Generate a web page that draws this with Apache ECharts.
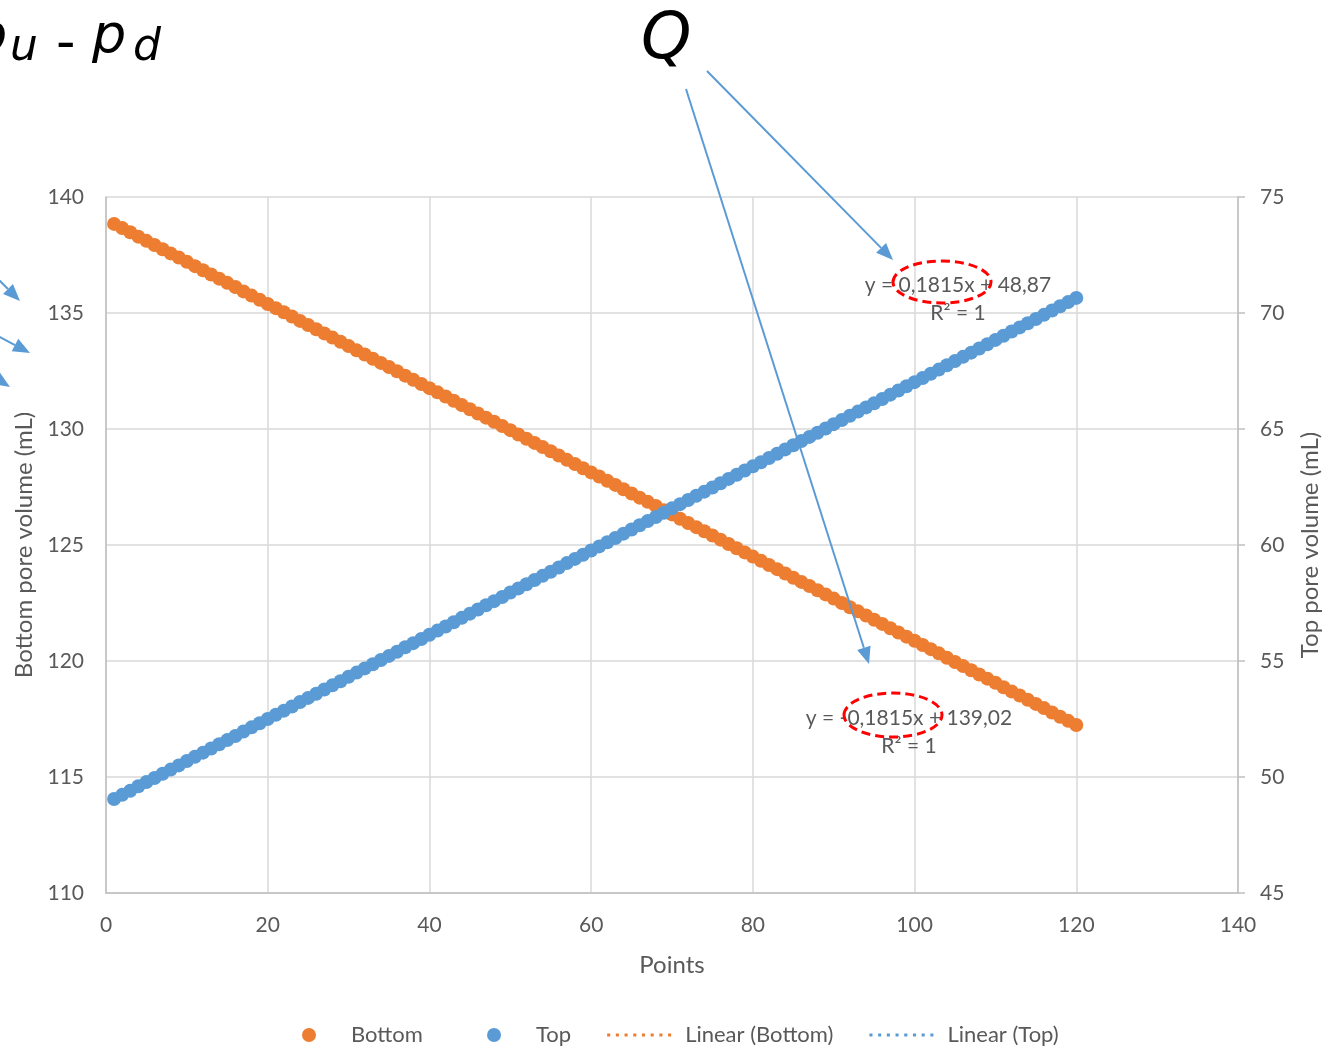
<!DOCTYPE html>
<html>
<head>
<meta charset="utf-8">
<title>Pore volume vs points</title>
<script src="https://cdn.jsdelivr.net/npm/echarts@6/dist/echarts.min.js"></script>
<style>
  html, body { margin: 0; padding: 0; background: #ffffff; }
  #chart { width: 1332px; height: 1051px; }
</style>
</head>
<body>
<div id="chart"></div>
<script>
// Pore volume (mL) recorded at each point, 1..120
const bottomVolume = [
  138.84,138.66,138.48,138.29,138.11,137.93,137.75,137.57,137.39,137.21,
  137.02,136.84,136.66,136.48,136.30,136.12,135.93,135.75,135.57,135.39,
  135.21,135.03,134.85,134.66,134.48,134.30,134.12,133.94,133.76,133.58,
  133.39,133.21,133.03,132.85,132.67,132.49,132.30,132.12,131.94,131.76,
  131.58,131.40,131.22,131.03,130.85,130.67,130.49,130.31,130.13,129.95,
  129.76,129.58,129.40,129.22,129.04,128.86,128.67,128.49,128.31,128.13,
  127.95,127.77,127.59,127.40,127.22,127.04,126.86,126.68,126.50,126.32,
  126.13,125.95,125.77,125.59,125.41,125.23,125.04,124.86,124.68,124.50,
  124.32,124.14,123.96,123.77,123.59,123.41,123.23,123.05,122.87,122.69,
  122.50,122.32,122.14,121.96,121.78,121.60,121.41,121.23,121.05,120.87,
  120.69,120.51,120.33,120.14,119.96,119.78,119.60,119.42,119.24,119.06,
  118.87,118.69,118.51,118.33,118.15,117.97,117.78,117.60,117.42,117.24
];
const topVolume = [
  49.05,49.23,49.41,49.60,49.78,49.96,50.14,50.32,50.50,50.69,
  50.87,51.05,51.23,51.41,51.59,51.77,51.96,52.14,52.32,52.50,
  52.68,52.86,53.04,53.23,53.41,53.59,53.77,53.95,54.13,54.32,
  54.50,54.68,54.86,55.04,55.22,55.40,55.59,55.77,55.95,56.13,
  56.31,56.49,56.67,56.86,57.04,57.22,57.40,57.58,57.76,57.95,
  58.13,58.31,58.49,58.67,58.85,59.03,59.22,59.40,59.58,59.76,
  59.94,60.12,60.30,60.49,60.67,60.85,61.03,61.21,61.39,61.58,
  61.76,61.94,62.12,62.30,62.48,62.66,62.85,63.03,63.21,63.39,
  63.57,63.75,63.93,64.12,64.30,64.48,64.66,64.84,65.02,65.21,
  65.39,65.57,65.75,65.93,66.11,66.29,66.48,66.66,66.84,67.02,
  67.20,67.38,67.56,67.75,67.93,68.11,68.29,68.47,68.65,68.84,
  69.02,69.20,69.38,69.56,69.74,69.92,70.11,70.29,70.47,70.65
];

// Trendline equations as printed on the chart
const bottomFitLabel = ['y = -0,1815x + 139,02', 'R² = 1'];
const topFitLabel = ['y = 0,1815x + 48,87', 'R² = 1'];

// Axis ranges [min, max, interval]
const xRange = [0, 140, 20];
const leftRange = [110, 140, 5];
const rightRange = [45, 75, 5];

const ORANGE = '#ED7D31';
const BLUE = '#5B9BD5';
const TEXT = '#595959';
const FONT = 'Lato, "Open Sans", sans-serif';
const MATH_FONT = '"DejaVu Sans", sans-serif';

const bottomPts = bottomVolume.map((v, i) => [i + 1, v]);
const topPts = topVolume.map((v, i) => [i + 1, v]);
// Linear fits span the first to the last point
const bottomFit = [bottomPts[0], bottomPts[bottomPts.length - 1]];
const topFit = [topPts[0], topPts[topPts.length - 1]];

// Dotted stroke used as the legend icon of the trendlines
const DOTTED_ICON = 'path://M0,0h3v3h-3z M8.5,0h3v3h-3z M17,0h3v3h-3z M25.5,0h3v3h-3z ' +
  'M34,0h3v3h-3z M42.5,0h3v3h-3z M51,0h3v3h-3z M59.5,0h3v3h-3z';

const chart = echarts.init(document.getElementById('chart'), null, { renderer: 'canvas' });

// Straight arrow with a filled triangular head at (x2, y2)
function arrow(x1, y1, x2, y2) {
  const dx = x2 - x1, dy = y2 - y1;
  const len = Math.sqrt(dx * dx + dy * dy);
  const ux = dx / len, uy = dy / len;
  const headL = 17, headW = 7;
  const bx = x2 - ux * headL, by = y2 - uy * headL;
  return [
    { type: 'line', silent: true, z: 50,
      shape: { x1: x1, y1: y1, x2: bx, y2: by },
      style: { stroke: BLUE, lineWidth: 2 } },
    { type: 'polygon', silent: true, z: 50,
      shape: { points: [[x2, y2], [bx - uy * headW, by + ux * headW], [bx + uy * headW, by - ux * headW]] },
      style: { fill: BLUE } }
  ];
}

// Black math symbol; y is the vertical middle of the text line
function symbolText(x, y, text, size, italic) {
  return { type: 'text', silent: true, z: 60, x: x, y: y,
    style: { text: text, fill: '#000000',
      font: (italic ? 'italic ' : '') + size + 'px ' + MATH_FONT,
      align: 'left', verticalAlign: 'middle' } };
}

function fitText(cx, cy, lines) {
  return { type: 'text', silent: true, z: 40, x: cx, y: cy,
    style: { text: lines.join('\n'), fill: TEXT, font: '21px ' + FONT, lineHeight: 28,
      align: 'center', verticalAlign: 'middle' } };
}

function ring(cx, cy, rx, ry) {
  return { type: 'ellipse', silent: true, z: 45,
    shape: { cx: cx, cy: cy, rx: rx, ry: ry },
    style: { fill: 'none', stroke: '#FF0000', lineWidth: 3, lineDash: [9, 5] } };
}

const graphics = [].concat(
  // pressure difference p_u - p_d, partly off the left edge
  [symbolText(-27, 38, 'p', 54, true), symbolText(10, 49, 'u', 44, true),
   symbolText(56, 46, '-', 54, false), symbolText(92, 38, 'p', 54, true),
   symbolText(133, 49, 'd', 44, true)],
  [symbolText(641, 41, 'Q', 64, true)],
  arrow(707, 71, 893, 260),
  arrow(686, 89, 869, 664),
  arrow(-2, 279, 20, 301),
  arrow(-2, 336, 30, 353),
  arrow(-12, 373, 10, 387),
  [fitText(958, 299, topFitLabel), fitText(909, 732, bottomFitLabel)],
  [ring(942, 282, 49, 21), ring(893, 715, 49, 22)]
);

const axisBase = {
  axisLine: { show: true, lineStyle: { color: '#BFBFBF', width: 1.5 } },
  axisLabel: { color: TEXT, fontSize: 21, fontFamily: FONT },
  splitLine: { show: true, lineStyle: { color: '#D9D9D9', width: 1.5 } },
  nameTextStyle: { color: TEXT, fontSize: 24, fontFamily: FONT }
};

// The entry following "Bottom" is a centred circle, so "Bottom" gets trailing
// blank space to leave room for the empty left half of that icon slot
const circleText = { padding: [0, 0, 0, 5] };
const dottedText = { padding: [0, 0, 0, 9] };

chart.setOption({
  backgroundColor: '#ffffff',
  animation: false,
  textStyle: { fontFamily: FONT },
  grid: { left: 106, right: 94, top: 197, bottom: 158, containLabel: false },
  xAxis: Object.assign({}, axisBase, {
    type: 'value', min: xRange[0], max: xRange[1], interval: xRange[2],
    name: 'Points', nameLocation: 'middle', nameGap: 60,
    axisTick: { show: false },
    axisLabel: Object.assign({}, axisBase.axisLabel, { margin: 22 })
  }),
  yAxis: [
    Object.assign({}, axisBase, {
      type: 'value', position: 'left', min: leftRange[0], max: leftRange[1], interval: leftRange[2],
      name: 'Bottom pore volume (mL)', nameLocation: 'middle', nameGap: 70, nameRotate: 90,
      axisTick: { show: false },
      axisLabel: Object.assign({}, axisBase.axisLabel, { margin: 22 })
    }),
    Object.assign({}, axisBase, {
      type: 'value', position: 'right', min: rightRange[0], max: rightRange[1], interval: rightRange[2],
      name: 'Top pore volume (mL)', nameLocation: 'middle', nameGap: 60, nameRotate: 90,
      axisTick: { show: true, inside: false, length: 7, lineStyle: { color: '#BFBFBF', width: 1.5 } },
      splitLine: { show: false },
      axisLabel: Object.assign({}, axisBase.axisLabel, { margin: 22 })
    })
  ],
  legend: {
    bottom: 0, left: 297,
    itemWidth: 64, itemHeight: 14, itemGap: 36,
    textStyle: { color: TEXT, fontSize: 22, fontFamily: FONT },
    formatter: function (name) {
      return name === 'Bottom' ? name + '     ' : name;
    },
    data: [
      { name: 'Bottom', icon: 'circle', textStyle: circleText },
      { name: 'Top', icon: 'circle', textStyle: circleText },
      { name: 'Linear (Bottom)', icon: DOTTED_ICON, textStyle: dottedText },
      { name: 'Linear (Top)', icon: DOTTED_ICON, textStyle: dottedText }
    ]
  },
  series: [
    { name: 'Linear (Bottom)', type: 'line', yAxisIndex: 0, data: bottomFit, symbol: 'none', z: 1,
      lineStyle: { color: ORANGE, width: 2.5, type: 'dotted' }, itemStyle: { color: ORANGE } },
    { name: 'Linear (Top)', type: 'line', yAxisIndex: 1, data: topFit, symbol: 'none', z: 1,
      lineStyle: { color: BLUE, width: 2.5, type: 'dotted' }, itemStyle: { color: BLUE } },
    { name: 'Bottom', type: 'scatter', yAxisIndex: 0, data: bottomPts, symbolSize: 14, z: 3,
      itemStyle: { color: ORANGE, opacity: 1 } },
    { name: 'Top', type: 'scatter', yAxisIndex: 1, data: topPts, symbolSize: 14, z: 3,
      itemStyle: { color: BLUE, opacity: 1 } }
  ],
  graphic: graphics
});
</script>
</body>
</html>
